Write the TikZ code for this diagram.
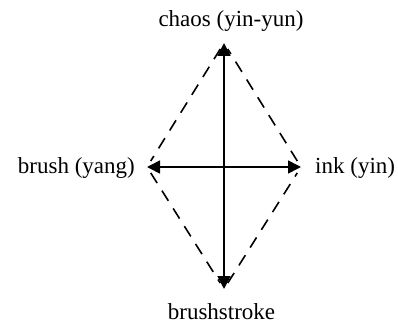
\documentclass[tikz,border=0pt]{standalone}
\usepackage{fontspec}
\setmainfont{Liberation Serif}
\usetikzlibrary{arrows.meta}
\begin{document}
\begin{tikzpicture}[x=1pt,y=-1pt,
  lbl/.style={inner sep=0pt,font=\fontsize{23}{28}\selectfont},
  axis/.style={line width=1.6pt,{Triangle[length=13pt,width=13pt]}-{Triangle[length=13pt,width=13pt]}},
  edge/.style={line width=1.6pt,dash pattern=on 12pt off 9pt,shorten <=7pt,shorten >=7pt}]
\useasboundingbox (0,0) rectangle (398,326);
\coordinate (T) at (224,43);
\coordinate (B) at (224,289);
\coordinate (L) at (147,167);
\coordinate (R) at (301,167);
\node[lbl,anchor=base] (chaos) at (231,27) {chaos (yin-yun)};
\node[lbl,anchor=base] (stroke) at (221.5,319) {brushstroke};
\node[lbl,anchor=base east] (brush) at (135,173) {brush (yang)};
\node[lbl,anchor=base west] (ink) at (315,173) {ink (yin)};
\draw[axis] (B) -- (T);
\draw[axis] (L) -- (R);
\draw[edge] (T) -- (L);
\draw[edge] (L) -- (B);
\draw[edge] (B) -- (R);
\draw[edge] (R) -- (T);
\end{tikzpicture}
\end{document}
